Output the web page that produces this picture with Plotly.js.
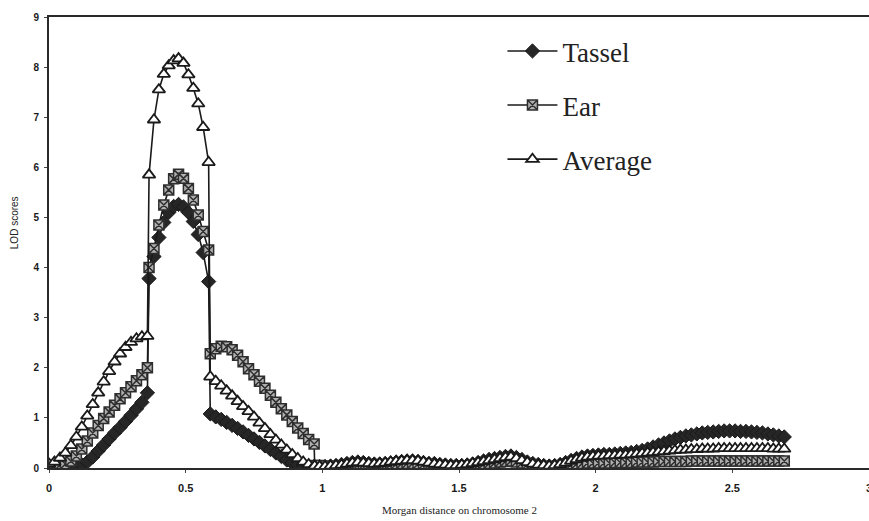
<!DOCTYPE html>
<html>
<head>
<meta charset="utf-8">
<script src="https://cdn.plot.ly/plotly-3.0.1.min.js"></script>
<style>
  html, body { margin: 0; padding: 0; background: #fff; }
  #chart { width: 869px; height: 521px; }
</style>
</head>
<body>
<div id="chart"></div>
<script>
// Map positions along chromosome 2 (Morgan)
const positions = [
  0, 0.02, 0.04, 0.06, 0.08, 0.1, 0.12, 0.14, 0.16, 0.18, 0.2, 0.22, 0.24, 0.26, 0.28, 0.3, 0.32, 0.34, 0.36,
  0.366, 0.384, 0.402, 0.42, 0.438, 0.456, 0.474, 0.492, 0.51, 0.528, 0.546, 0.564, 0.584,
  0.59, 0.61, 0.63, 0.65, 0.67, 0.69, 0.71, 0.73, 0.75, 0.77, 0.79, 0.81, 0.83, 0.85, 0.87, 0.89, 0.91, 0.93, 0.95, 0.97, 0.972,
  0.99, 1.01, 1.03, 1.05, 1.07, 1.09,
  1.11, 1.13, 1.15, 1.17, 1.19,
  1.21, 1.23, 1.25, 1.27, 1.29,
  1.31, 1.33, 1.35, 1.37, 1.39,
  1.41, 1.43, 1.45, 1.47, 1.49,
  1.51, 1.53, 1.55, 1.57, 1.59,
  1.61, 1.63, 1.65, 1.67, 1.69,
  1.71, 1.73, 1.75, 1.77, 1.79,
  1.81, 1.83, 1.85, 1.87, 1.89,
  1.91, 1.93, 1.95, 1.97, 1.99,
  2.01, 2.03, 2.05, 2.07, 2.09,
  2.11, 2.13, 2.15, 2.17, 2.19,
  2.21, 2.23, 2.25, 2.27, 2.29,
  2.31, 2.33, 2.35, 2.37, 2.39,
  2.41, 2.43, 2.45, 2.47, 2.49,
  2.51, 2.53, 2.55, 2.57, 2.59,
  2.61, 2.63, 2.65, 2.67, 2.69
];

// LOD scores per trait
const tasselLOD = [
  0.02, 0.02, 0.02, 0.03, 0.03, 0.04, 0.06, 0.12, 0.22, 0.34, 0.46, 0.58, 0.7, 0.81, 0.93, 1.05, 1.18, 1.31, 1.5,
  3.78, 4.22, 4.6, 4.9, 5.1, 5.22, 5.26, 5.21, 5.1, 4.92, 4.66, 4.3, 3.72,
  1.08, 1.02, 0.97, 0.91, 0.85, 0.79, 0.72, 0.65, 0.58, 0.51, 0.44, 0.37, 0.3, 0.23, 0.16, 0.1, 0.06, 0.04, 0.03, 0.03, 0.03,
  0.03, 0.03, 0.04, 0.05, 0.07, 0.09,
  0.11, 0.12, 0.11, 0.09, 0.08,
  0.08, 0.09, 0.1, 0.12, 0.13,
  0.14, 0.14, 0.13, 0.11, 0.09,
  0.09, 0.07, 0.06, 0.05, 0.05,
  0.05, 0.06, 0.08, 0.11, 0.14,
  0.17, 0.19, 0.21, 0.23, 0.24,
  0.21, 0.17, 0.12, 0.09, 0.07,
  0.05, 0.04, 0.05, 0.07, 0.11,
  0.15, 0.19, 0.22, 0.24, 0.25,
  0.26, 0.27, 0.27, 0.28, 0.29,
  0.3, 0.31, 0.33, 0.35, 0.38,
  0.42, 0.46, 0.5, 0.54, 0.58,
  0.61, 0.64, 0.66, 0.68, 0.7,
  0.71, 0.72, 0.73, 0.74, 0.74,
  0.74, 0.73, 0.73, 0.72, 0.71,
  0.7, 0.68, 0.66, 0.64, 0.62
];

const earLOD = [
  0.05, 0.05, 0.06, 0.08, 0.14, 0.24, 0.38, 0.54, 0.7, 0.85, 0.99, 1.12, 1.25, 1.38, 1.5, 1.62, 1.74, 1.86, 2.0,
  4.0, 4.38, 4.85, 5.25, 5.55, 5.77, 5.86, 5.78, 5.58, 5.35, 5.05, 4.72, 4.35,
  2.28, 2.38, 2.43, 2.42, 2.36, 2.25, 2.12, 1.98, 1.86, 1.73, 1.59, 1.45, 1.31, 1.18, 1.06, 0.93, 0.8, 0.69, 0.57, 0.48, 0.05,
  0.05, 0.04, 0.03, 0.03, 0.03, 0.04,
  0.05, 0.06, 0.06, 0.05, 0.05,
  0.05, 0.06, 0.07, 0.08, 0.09,
  0.09, 0.09, 0.08, 0.07, 0.06,
  0.05, 0.04, 0.04, 0.03, 0.03,
  0.03, 0.04, 0.05, 0.06, 0.08,
  0.09, 0.1, 0.12, 0.13, 0.14,
  0.12, 0.1, 0.07, 0.05, 0.04,
  0.03, 0.03, 0.03, 0.04, 0.05,
  0.07, 0.08, 0.09, 0.1, 0.1,
  0.1, 0.1, 0.1, 0.11, 0.11,
  0.11, 0.11, 0.12, 0.12, 0.12,
  0.12, 0.13, 0.13, 0.13, 0.13,
  0.13, 0.13, 0.14, 0.14, 0.14,
  0.14, 0.14, 0.14, 0.14, 0.14,
  0.14, 0.14, 0.14, 0.14, 0.14,
  0.14, 0.14, 0.14, 0.14, 0.14
];

const averageLOD = [
  0.08, 0.12, 0.2, 0.3, 0.45, 0.62, 0.82, 1.04, 1.27, 1.5, 1.72, 1.93, 2.12, 2.28, 2.41, 2.51, 2.58, 2.62, 2.63,
  5.85, 6.95, 7.55, 7.86, 8.03, 8.13, 8.17, 8.08, 7.85, 7.58, 7.27, 6.8, 6.1,
  1.82, 1.73, 1.64, 1.54, 1.44, 1.33, 1.23, 1.13, 1.02, 0.9, 0.79, 0.67, 0.56, 0.46, 0.36, 0.27, 0.19, 0.12, 0.07, 0.04, 0.04,
  0.03, 0.03, 0.04, 0.05, 0.06, 0.08,
  0.1, 0.11, 0.1, 0.09, 0.08,
  0.09, 0.1, 0.12, 0.13, 0.14,
  0.15, 0.15, 0.14, 0.12, 0.1,
  0.08, 0.07, 0.06, 0.05, 0.05,
  0.06, 0.07, 0.09, 0.11, 0.13,
  0.15, 0.17, 0.19, 0.21, 0.22,
  0.19, 0.15, 0.11, 0.08, 0.06,
  0.05, 0.04, 0.05, 0.07, 0.1,
  0.14, 0.17, 0.2, 0.22, 0.23,
  0.24, 0.24, 0.25, 0.25, 0.26,
  0.26, 0.27, 0.28, 0.29, 0.3,
  0.31, 0.32, 0.33, 0.34, 0.35,
  0.36, 0.36, 0.37, 0.37, 0.38,
  0.38, 0.38, 0.39, 0.39, 0.39,
  0.39, 0.39, 0.39, 0.39, 0.39,
  0.39, 0.39, 0.38, 0.38, 0.38
];

const xTicks = [0, 0.5, 1, 1.5, 2, 2.5, 3];
const xTickLabels = ['0', '0.5', '1', '1.5', '2', '2.5', '3'];
const yTicks = [0, 1, 2, 3, 4, 5, 6, 7, 8, 9];

const ink = '#1a1a1a';

const traces = [
  {
    name: 'Tassel', x: positions, y: tasselLOD, type: 'scatter', mode: 'lines+markers',
    legendgroup: 'g1',
    line: { color: ink, width: 1.6 },
    marker: { symbol: 'diamond', size: 11, color: '#262626', line: { color: ink, width: 1 } }
  },
  {
    name: 'Ear', x: positions, y: earLOD, type: 'scatter', mode: 'lines+markers',
    legendgroup: 'g2',
    line: { color: ink, width: 1.6 },
    marker: { symbol: 'square-x', size: 10, color: '#b0b0b0', line: { color: '#2e2e2e', width: 1.5 } }
  },
  {
    name: 'Average', x: positions, y: averageLOD, type: 'scatter', mode: 'lines+markers',
    legendgroup: 'g3',
    line: { color: ink, width: 1.6 },
    marker: { symbol: 'triangle-up', size: 11, color: '#ffffff', line: { color: ink, width: 1.8 } }
  }
];

const layout = {
  width: 869,
  height: 521,
  margin: { l: 49, r: 0, t: 17, b: 53 },
  paper_bgcolor: '#ffffff',
  plot_bgcolor: '#ffffff',
  showlegend: true,
  legend: {
    x: 0.553, y: 0.978, xanchor: 'left', yanchor: 'top',
    bgcolor: 'rgba(0,0,0,0)',
    font: { family: 'Liberation Serif, Times New Roman, serif', size: 27, color: '#222' },
    tracegroupgap: 16,
    itemwidth: 50
  },
  xaxis: {
    range: [0, 3],
    tickvals: xTicks,
    ticktext: xTickLabels,
    showgrid: false,
    zeroline: false,
    showline: true,
    mirror: true,
    linecolor: '#2a2a2a',
    linewidth: 2,
    ticks: 'outside',
    ticklen: 3,
    tickcolor: '#444',
    ticklabelstandoff: 6,
    ticklabeloverflow: 'allow',
    automargin: false,
    tickfont: { family: 'Liberation Sans Narrow, Liberation Sans, Arial, sans-serif', size: 11, color: '#1a1a1a', weight: 'bold' }
  },
  yaxis: {
    range: [0, 9],
    tickvals: yTicks,
    showgrid: false,
    zeroline: false,
    showline: true,
    linecolor: '#2a2a2a',
    linewidth: 2,
    ticks: 'outside',
    ticklen: 3,
    tickcolor: '#444',
    ticklabelstandoff: 3,
    automargin: false,
    tickfont: { family: 'Liberation Sans, Arial, sans-serif', size: 10, color: '#1a1a1a', weight: 'bold' }
  },
  annotations: [
    {
      text: 'LOD scores', textangle: -90,
      xref: 'paper', yref: 'paper', x: -0.0427, y: 0.545,
      xanchor: 'center', yanchor: 'middle', showarrow: false,
      font: { family: 'Liberation Sans Narrow, Liberation Sans, Arial, sans-serif', size: 10, color: '#222' }
    },
    {
      text: 'Morgan distance on chromosome 2',
      xref: 'paper', yref: 'paper', x: 0.5, y: -0.093,
      xanchor: 'center', yanchor: 'middle', showarrow: false,
      font: { family: 'Liberation Serif, Times New Roman, serif', size: 11, color: '#222' }
    }
  ]
};

Plotly.newPlot('chart', traces, layout, { displayModeBar: false, staticPlot: true });
</script>
</body>
</html>
